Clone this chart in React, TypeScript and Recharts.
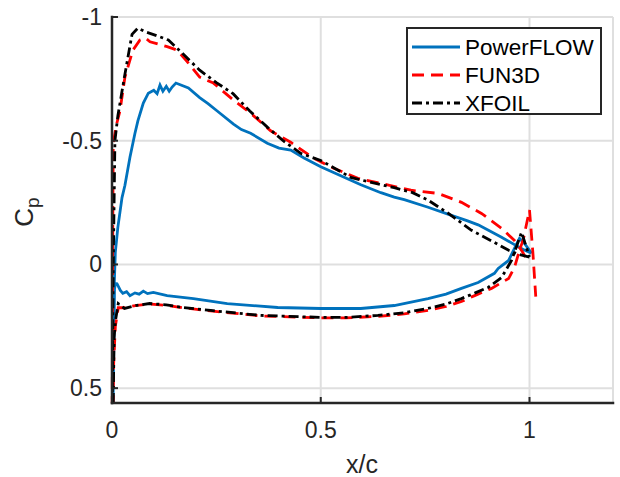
import React from 'react';
import { LineChart, Line, XAxis, YAxis, CartesianGrid } from 'recharts';

// axis setup
const xTicks = [0, 0.5, 1];
const yTicks = [-1, -0.5, 0, 0.5];
const xDomain = [0, 1.2];
const yDomain = [-1, 0.56];

// [x/c, Cp] pairs, leading edge -> trailing edge
const powerflowUpper = [
  [0.0, 0.9], [0.002, 0.4], [0.005, 0.1], [0.008, -0.05], [0.014, -0.15], [0.024, -0.27],
  [0.031, -0.32], [0.043, -0.433], [0.055, -0.53], [0.062, -0.58], [0.075, -0.652],
  [0.087, -0.692], [0.1, -0.704], [0.108, -0.69], [0.115, -0.725], [0.122, -0.7],
  [0.13, -0.72], [0.137, -0.7], [0.144, -0.717], [0.153, -0.733], [0.165, -0.725],
  [0.183, -0.713], [0.21, -0.674], [0.23, -0.65], [0.252, -0.62], [0.291, -0.567],
  [0.31, -0.545], [0.332, -0.53], [0.372, -0.49], [0.4, -0.47], [0.428, -0.462],
  [0.46, -0.43], [0.5, -0.395], [0.572, -0.34], [0.596, -0.322], [0.644, -0.29],
  [0.676, -0.272], [0.7, -0.262], [0.757, -0.231], [0.813, -0.198], [0.85, -0.177],
  [0.877, -0.16], [0.905, -0.135], [0.933, -0.11], [0.964, -0.08], [0.985, -0.06],
  [1.005, -0.045],
];
const powerflowLower = [
  [0.0, 0.9], [0.003, 0.5], [0.006, 0.1], [0.008, 0.077], [0.012, 0.078], [0.02, 0.105],
  [0.026, 0.117], [0.035, 0.11], [0.043, 0.126], [0.055, 0.115], [0.065, 0.12],
  [0.075, 0.108], [0.085, 0.118], [0.099, 0.113], [0.132, 0.126], [0.195, 0.138],
  [0.276, 0.158], [0.397, 0.174], [0.5, 0.178], [0.596, 0.178], [0.676, 0.166],
  [0.757, 0.138], [0.8, 0.12], [0.837, 0.097], [0.877, 0.073], [0.916, 0.036],
  [0.925, 0.016], [0.95, -0.016], [0.964, -0.065], [0.976, -0.105], [0.988, -0.085],
  [1.005, -0.045],
];

const fun3dUpper = [
  [0.0, 0.9], [0.001, 0.3], [0.002, -0.2], [0.003, -0.49], [0.01, -0.56], [0.019, -0.62],
  [0.031, -0.757], [0.05, -0.866], [0.067, -0.907], [0.08, -0.915], [0.091, -0.9],
  [0.132, -0.88], [0.156, -0.866], [0.18, -0.82], [0.21, -0.757], [0.243, -0.733],
  [0.291, -0.664], [0.332, -0.611], [0.38, -0.54], [0.428, -0.494], [0.483, -0.429],
  [0.531, -0.389], [0.589, -0.348], [0.651, -0.325], [0.716, -0.3], [0.781, -0.287],
  [0.837, -0.251], [0.885, -0.206], [0.933, -0.146], [0.964, -0.097], [0.981, -0.057],
  [0.99, -0.03],
];
const fun3dLower = [
  [0.0, 0.9], [0.004, 0.4], [0.008, 0.25], [0.015, 0.175], [0.03, 0.175], [0.06, 0.165],
  [0.09, 0.16], [0.13, 0.165], [0.17, 0.175], [0.236, 0.188], [0.356, 0.208], [0.5, 0.216],
  [0.56, 0.216], [0.637, 0.21], [0.7, 0.2], [0.757, 0.186], [0.8, 0.17], [0.837, 0.15],
  [0.87, 0.125], [0.909, 0.097], [0.95, 0.057], [0.964, 0.012], [0.976, -0.057],
  [0.985, -0.1], [1.0, -0.22], [1.008, -0.05], [1.015, 0.13],
];

const xfoilUpper = [
  [0.0, 0.9], [0.001, 0.5], [0.003, 0.0], [0.007, -0.5], [0.014, -0.6], [0.03, -0.76],
  [0.048, -0.93], [0.062, -0.955], [0.08, -0.94], [0.103, -0.927], [0.135, -0.907],
  [0.168, -0.854], [0.21, -0.785], [0.25, -0.735], [0.29, -0.69], [0.33, -0.62],
  [0.372, -0.555], [0.41, -0.5], [0.452, -0.449], [0.5, -0.42], [0.572, -0.352],
  [0.6, -0.34], [0.676, -0.31], [0.72, -0.29], [0.757, -0.26], [0.805, -0.207],
  [0.861, -0.138], [0.916, -0.089], [0.95, -0.057], [0.975, -0.04], [1.0, -0.03],
];
const xfoilLower = [
  [0.0, 0.9], [0.005, 0.3], [0.008, 0.23], [0.015, 0.158], [0.03, 0.178], [0.06, 0.165],
  [0.09, 0.158], [0.13, 0.163], [0.17, 0.174], [0.236, 0.186], [0.356, 0.206], [0.5, 0.214],
  [0.56, 0.214], [0.637, 0.206], [0.7, 0.195], [0.757, 0.178], [0.8, 0.16], [0.837, 0.138],
  [0.87, 0.115], [0.901, 0.093], [0.933, 0.053], [0.957, -0.016], [0.981, -0.13],
  [1.0, -0.03],
];

// trailing edge -> upper -> leading edge -> lower -> trailing edge
const loop = (upper: number[][], lower: number[][]) =>
  [...upper.slice().reverse(), ...lower].map(([x, cp]) => ({ x, cp }));

const series = [
  { name: 'PowerFLOW', color: '#0072BD', dash: undefined, data: loop(powerflowUpper, powerflowLower) },
  { name: 'FUN3D', color: '#FF0000', dash: '12 7', data: loop(fun3dUpper, fun3dLower) },
  { name: 'XFOIL', color: '#000000', dash: '10 4 3 4', data: loop(xfoilUpper, xfoilLower) },
];

const FONT = "'Liberation Sans', Arial, Helvetica, sans-serif";
const AXIS = '#262626';
const TICK_LEN = 6;

const BottomTick = ({ x, y, payload }: any) => (
  <g>
    <line x1={x} x2={x} y1={y} y2={y - TICK_LEN} stroke={AXIS} strokeWidth={2} />
    <text x={x} y={y + 35} textAnchor="middle" fill={AXIS} fontSize={23} fontFamily={FONT}>
      {String(payload.value)}
    </text>
  </g>
);
const TopTick = ({ x, y }: any) => (
  <line x1={x} x2={x} y1={y} y2={y + TICK_LEN} stroke={AXIS} strokeWidth={2} />
);
const LeftTick = ({ x, y, payload }: any) => (
  <g>
    <line x1={x} x2={x + TICK_LEN} y1={y} y2={y} stroke={AXIS} strokeWidth={2} />
    <text x={x - 10} y={y + 8} textAnchor="end" fill={AXIS} fontSize={23} fontFamily={FONT}>
      {String(payload.value)}
    </text>
  </g>
);
const RightTick = ({ x, y }: any) => (
  <line x1={x} x2={x - TICK_LEN} y1={y} y2={y} stroke={AXIS} strokeWidth={2} />
);

const XTitle = () => (
  <text x={362} y={473} textAnchor="middle" fill={AXIS} fontSize={25} fontFamily={FONT}>
    x/c
  </text>
);
const YTitle = () => (
  <text transform="translate(33,212) rotate(-90)" textAnchor="middle" fill={AXIS} fontSize={26} fontFamily={FONT}>
    C<tspan fontSize={19} dy={6}>p</tspan>
  </text>
);

const axisLine = { stroke: AXIS, strokeWidth: 2.5, strokeLinecap: 'square' as const };

export default function App() {
  return (
    <div style={{ position: 'absolute', left: 0, top: 0, width: 620, height: 477, background: '#fff' }}>
      <LineChart width={620} height={477} margin={{ top: 17, right: 7, bottom: 34, left: 52 }}>
        <CartesianGrid stroke="#dfdfdf" strokeWidth={2} />
        {series.map((s) => (
          <Line
            key={s.name}
            name={s.name}
            data={s.data}
            dataKey="cp"
            type="linear"
            stroke={s.color}
            strokeWidth={2.8}
            strokeDasharray={s.dash}
            dot={false}
            activeDot={false}
            isAnimationActive={false}
          />
        ))}
        <XAxis
          dataKey="x"
          type="number"
          domain={xDomain}
          ticks={xTicks}
          interval={0}
          height={40}
          tickSize={0}
          tickMargin={0}
          tickLine={false}
          axisLine={axisLine}
          tick={<BottomTick />}
          label={<XTitle />}
        />
        <XAxis
          xAxisId="top"
          orientation="top"
          dataKey="x"
          type="number"
          domain={xDomain}
          ticks={xTicks}
          interval={0}
          height={0}
          tickSize={0}
          tickMargin={0}
          tickLine={false}
          axisLine={axisLine}
          tick={<TopTick />}
        />
        <YAxis
          type="number"
          domain={yDomain}
          ticks={yTicks}
          interval={0}
          reversed
          allowDataOverflow
          width={60}
          tickSize={0}
          tickMargin={0}
          tickLine={false}
          axisLine={axisLine}
          tick={<LeftTick />}
          label={<YTitle />}
        />
        <YAxis
          yAxisId="right"
          orientation="right"
          type="number"
          domain={yDomain}
          ticks={yTicks}
          interval={0}
          reversed
          allowDataOverflow
          width={0}
          tickSize={0}
          tickMargin={0}
          tickLine={false}
          axisLine={axisLine}
          tick={<RightTick />}
        />
      </LineChart>
      <svg
        width={196}
        height={88}
        style={{ position: 'absolute', left: 406, top: 27 }}
      >
        <rect x={1} y={1} width={194} height={86} fill="#fff" stroke={AXIS} strokeWidth={2} />
        {series.map((s, i) => (
          <g key={s.name}>
            <line
              x1={6}
              x2={54}
              y1={20 + i * 28}
              y2={20 + i * 28}
              stroke={s.color}
              strokeWidth={2.8}
              strokeDasharray={s.dash}
            />
            <text x={59} y={28 + i * 28} fontSize={22.5} fontFamily={FONT} fill="#000">
              {s.name}
            </text>
          </g>
        ))}
      </svg>
    </div>
  );
}
